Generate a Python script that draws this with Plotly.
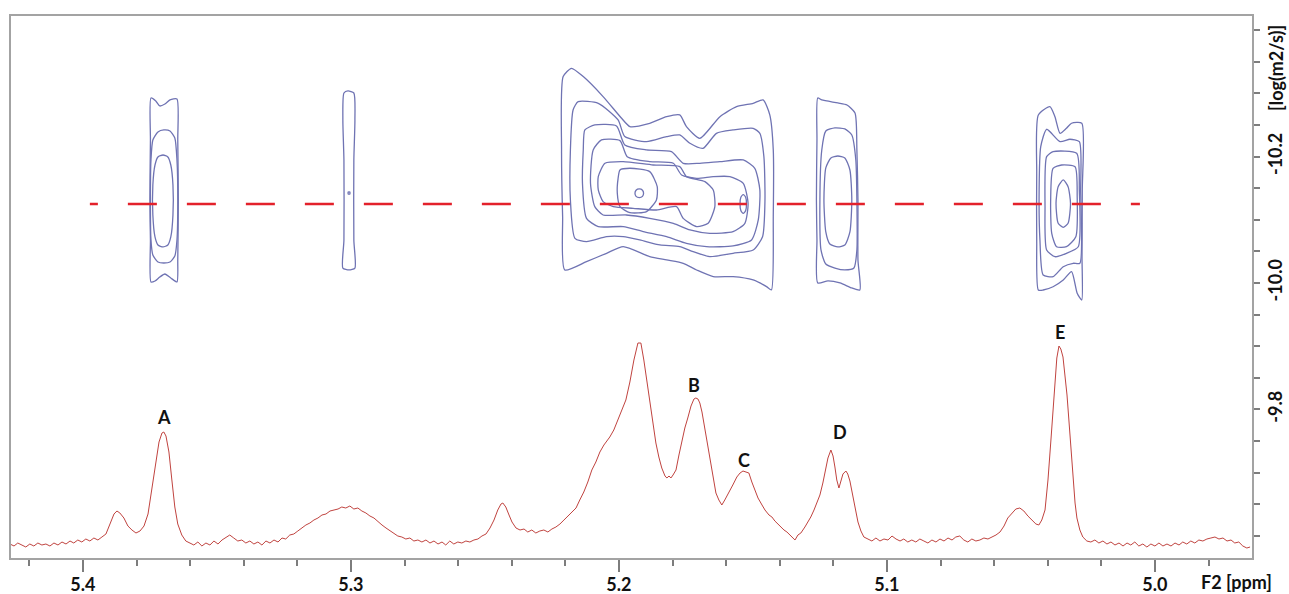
import plotly.graph_objects as go

# ---------------- data ----------------
# 1D projection spectrum: (chemical shift ppm, intensity a.u.)
spectrum = [
    (5.4272, 15), (5.4257, 13), (5.4243, 16), (5.4228, 14), (5.4213, 12), (5.4198, 15), (5.4183, 13),
    (5.4168, 16), (5.4153, 14), (5.4138, 15), (5.4123, 13), (5.4108, 16), (5.4093, 14), (5.4078, 17),
    (5.4063, 15), (5.4048, 18), (5.4034, 16), (5.4019, 19), (5.4004, 17), (5.3989, 20), (5.3974, 18),
    (5.3959, 21), (5.3944, 19), (5.3929, 22), (5.3914, 25), (5.3899, 35), (5.3884, 45), (5.3873, 48),
    (5.3862, 46), (5.3847, 41), (5.3832, 33), (5.3817, 29), (5.3802, 26), (5.3787, 28), (5.3772, 33),
    (5.3757, 45), (5.3743, 69), (5.3728, 97), (5.3716, 117), (5.3705, 126), (5.3698, 127), (5.3690, 123),
    (5.3679, 107), (5.3668, 79), (5.3657, 52), (5.3646, 35), (5.3631, 24), (5.3616, 18), (5.3601, 16),
    (5.3586, 14), (5.3571, 17), (5.3556, 13), (5.3541, 16), (5.3526, 14), (5.3511, 18), (5.3496, 15),
    (5.3481, 19), (5.3466, 22), (5.3452, 24), (5.3437, 21), (5.3422, 18), (5.3407, 19), (5.3392, 16),
    (5.3377, 18), (5.3362, 15), (5.3347, 17), (5.3332, 14), (5.3317, 18), (5.3302, 16), (5.3287, 19),
    (5.3272, 17), (5.3257, 21), (5.3243, 20), (5.3228, 24), (5.3213, 25), (5.3198, 28), (5.3183, 31),
    (5.3168, 34), (5.3153, 36), (5.3138, 39), (5.3123, 41), (5.3108, 44), (5.3093, 45), (5.3078, 48),
    (5.3063, 49), (5.3048, 50), (5.3034, 52), (5.3019, 51), (5.3004, 53), (5.2989, 50), (5.2974, 51),
    (5.2959, 48), (5.2944, 46), (5.2929, 43), (5.2914, 41), (5.2899, 37), (5.2884, 34), (5.2869, 31),
    (5.2854, 28), (5.2840, 26), (5.2825, 23), (5.2810, 22), (5.2795, 20), (5.2780, 21), (5.2765, 18),
    (5.2750, 19), (5.2735, 17), (5.2720, 19), (5.2705, 16), (5.2690, 18), (5.2675, 15), (5.2660, 17),
    (5.2646, 14), (5.2631, 18), (5.2616, 15), (5.2601, 17), (5.2586, 16), (5.2571, 18), (5.2556, 17),
    (5.2541, 19), (5.2526, 20), (5.2511, 23), (5.2496, 25), (5.2481, 31), (5.2466, 39), (5.2452, 49),
    (5.2440, 55), (5.2433, 56), (5.2422, 52), (5.2410, 44), (5.2399, 37), (5.2384, 31), (5.2369, 29),
    (5.2354, 30), (5.2340, 27), (5.2325, 29), (5.2310, 26), (5.2295, 28), (5.2280, 29), (5.2265, 27),
    (5.2250, 30), (5.2235, 32), (5.2220, 35), (5.2205, 39), (5.2190, 43), (5.2175, 46), (5.2160, 51),
    (5.2146, 59), (5.2131, 67), (5.2116, 77), (5.2101, 89), (5.2086, 97), (5.2071, 107), (5.2056, 114),
    (5.2045, 118), (5.2034, 122), (5.2019, 129), (5.2004, 139), (5.1989, 149), (5.1974, 159),
    (5.1959, 177), (5.1944, 199), (5.1929, 216), (5.1918, 216), (5.1907, 199), (5.1896, 179),
    (5.1884, 156), (5.1873, 134), (5.1862, 116), (5.1851, 102), (5.1840, 91), (5.1828, 83), (5.1821, 81),
    (5.1813, 83), (5.1806, 81), (5.1798, 84), (5.1787, 89), (5.1776, 104), (5.1765, 119), (5.1754, 131),
    (5.1743, 141), (5.1731, 153), (5.1720, 160), (5.1713, 161), (5.1705, 160), (5.1698, 156),
    (5.1690, 147), (5.1683, 136), (5.1672, 119), (5.1660, 99), (5.1649, 81), (5.1638, 66), (5.1627, 59),
    (5.1616, 54), (5.1605, 59), (5.1590, 66), (5.1575, 74), (5.1560, 82), (5.1548, 86), (5.1537, 88),
    (5.1526, 87), (5.1515, 86), (5.1504, 77), (5.1493, 69), (5.1481, 61), (5.1466, 54), (5.1455, 49),
    (5.1440, 44), (5.1429, 42), (5.1418, 38), (5.1407, 35), (5.1396, 32), (5.1384, 29), (5.1373, 27),
    (5.1362, 24), (5.1351, 22), (5.1343, 19), (5.1332, 24), (5.1321, 26), (5.1306, 32), (5.1295, 37),
    (5.1284, 42), (5.1272, 49), (5.1261, 56), (5.1250, 64), (5.1239, 76), (5.1228, 92), (5.1220, 101),
    (5.1209, 109), (5.1201, 103), (5.1194, 92), (5.1187, 79), (5.1179, 71), (5.1172, 79), (5.1164, 85),
    (5.1153, 88), (5.1146, 85), (5.1138, 78), (5.1131, 67), (5.1119, 52), (5.1108, 37), (5.1097, 28),
    (5.1086, 22), (5.1071, 20), (5.1056, 18), (5.1041, 21), (5.1026, 18), (5.1011, 20), (5.0996, 19),
    (5.0981, 23), (5.0966, 20), (5.0951, 18), (5.0937, 20), (5.0922, 17), (5.0907, 19), (5.0892, 17),
    (5.0877, 20), (5.0862, 18), (5.0847, 16), (5.0832, 19), (5.0817, 17), (5.0802, 20), (5.0787, 18),
    (5.0772, 21), (5.0757, 19), (5.0743, 22), (5.0728, 23), (5.0713, 19), (5.0698, 17), (5.0683, 20),
    (5.0668, 18), (5.0653, 19), (5.0638, 21), (5.0623, 20), (5.0608, 22), (5.0593, 24), (5.0578, 27),
    (5.0563, 33), (5.0549, 41), (5.0534, 46), (5.0519, 50), (5.0504, 51), (5.0489, 48), (5.0474, 43),
    (5.0459, 39), (5.0444, 35), (5.0433, 34), (5.0422, 39), (5.0410, 49), (5.0399, 79), (5.0388, 119),
    (5.0377, 164), (5.0366, 201), (5.0358, 213), (5.0351, 210), (5.0343, 202), (5.0336, 187),
    (5.0328, 164), (5.0321, 139), (5.0313, 111), (5.0306, 81), (5.0298, 56), (5.0291, 41), (5.0280, 29),
    (5.0269, 22), (5.0254, 18), (5.0239, 17), (5.0224, 19), (5.0209, 16), (5.0194, 18), (5.0179, 15),
    (5.0164, 17), (5.0149, 14), (5.0134, 16), (5.0119, 13), (5.0104, 16), (5.0090, 14), (5.0075, 17),
    (5.0060, 13), (5.0045, 15), (5.0030, 12), (5.0015, 15), (5.0000, 13), (4.9985, 16), (4.9970, 13),
    (4.9955, 15), (4.9940, 13), (4.9925, 16), (4.9910, 14), (4.9896, 17), (4.9881, 15), (4.9866, 18),
    (4.9851, 16), (4.9836, 19), (4.9821, 18), (4.9806, 20), (4.9791, 21), (4.9776, 22), (4.9761, 20),
    (4.9746, 21), (4.9731, 18), (4.9716, 19), (4.9702, 16), (4.9687, 17), (4.9672, 13), (4.9657, 11),
    (4.9645, 12),
]

# Peak labels: (label, ppm, intensity)
peak_labels = [("A", 5.3698, 142), ("B", 5.1720, 174), ("C", 5.1534, 99),
               ("D", 5.1175, 127), ("E", 5.0355, 227)]

# DOSY contours: lists of (ppm, log D) vertices
contours_A = [
    [(5.3746, -10.2927), (5.3728, -10.2880), (5.3713, -10.2801), (5.3694, -10.2832), (5.3675, -10.2896),
     (5.3649, -10.2911), (5.3646, -10.2263), (5.3644, -10.1313), (5.3646, -10.0364), (5.3649, -10.0016),
     (5.3672, -10.0079), (5.3694, -10.0142), (5.3713, -10.0095), (5.3731, -10.0032), (5.3746, -10.0016),
     (5.3748, -10.0680), (5.3750, -10.1313), (5.3748, -10.2263)],
    [(5.3746, -10.1946), (5.3739, -10.2263), (5.3720, -10.2389), (5.3698, -10.2421), (5.3675, -10.2405),
     (5.3657, -10.2294), (5.3649, -10.1946), (5.3646, -10.1313), (5.3649, -10.0680), (5.3657, -10.0427),
     (5.3675, -10.0332), (5.3698, -10.0316), (5.3720, -10.0332), (5.3739, -10.0443), (5.3746, -10.0680),
     (5.3748, -10.1313)],
    [(5.3701, -10.2025), (5.3683, -10.1994), (5.3672, -10.1867), (5.3664, -10.1551), (5.3664, -10.1076),
     (5.3672, -10.0728), (5.3683, -10.0601), (5.3701, -10.0570), (5.3720, -10.0601), (5.3731, -10.0728),
     (5.3739, -10.1076), (5.3739, -10.1551), (5.3731, -10.1867), (5.3720, -10.1994)],
]

contours_530 = [
    [(5.3026, -10.3006), (5.3011, -10.3038), (5.2989, -10.3006), (5.2985, -10.2579), (5.2989, -10.1946),
     (5.2989, -10.0680), (5.2985, -10.0237), (5.3007, -10.0206), (5.3030, -10.0237), (5.3026, -10.0680),
     (5.3026, -10.1946), (5.3030, -10.2579)],
    [(5.3010, -10.1440), (5.3004, -10.1440), (5.3004, -10.1408), (5.3010, -10.1408)],
]

contours_BC = [
    [(5.2208, -10.3265), (5.2177, -10.3397), (5.2133, -10.3265), (5.2059, -10.2949), (5.1990, -10.2606),
     (5.1959, -10.2474), (5.1885, -10.2527), (5.1822, -10.2632), (5.1773, -10.2659), (5.1748, -10.2474),
     (5.1698, -10.2289), (5.1623, -10.2632), (5.1561, -10.2790), (5.1499, -10.2843), (5.1462, -10.2896),
     (5.1437, -10.2659), (5.1424, -10.2105), (5.1424, -10.1050), (5.1431, -9.9890), (5.1449, -9.9942),
     (5.1499, -10.0048), (5.1574, -10.0101), (5.1648, -10.0101), (5.1710, -10.0206), (5.1760, -10.0311),
     (5.1822, -10.0364), (5.1885, -10.0417), (5.1984, -10.0575), (5.2046, -10.0470), (5.2121, -10.0338),
     (5.2202, -10.0206), (5.2210, -10.1050), (5.2214, -10.2105)],
    [(5.2171, -10.2738), (5.2152, -10.2869), (5.2077, -10.2843), (5.2003, -10.2579), (5.1978, -10.2316),
     (5.1897, -10.2237), (5.1822, -10.2316), (5.1773, -10.2342), (5.1735, -10.2210), (5.1686, -10.2131),
     (5.1636, -10.2368), (5.1574, -10.2421), (5.1499, -10.2448), (5.1474, -10.2368), (5.1459, -10.1999),
     (5.1455, -10.1314), (5.1464, -10.0733), (5.1499, -10.0522), (5.1574, -10.0470), (5.1661, -10.0417),
     (5.1723, -10.0496), (5.1773, -10.0575), (5.1847, -10.0602), (5.1922, -10.0681), (5.1984, -10.0733),
     (5.2046, -10.0733), (5.2121, -10.0654), (5.2164, -10.0707), (5.2181, -10.1314), (5.2181, -10.2105)],
    [(5.2127, -10.2421), (5.2090, -10.2500), (5.2009, -10.2484), (5.1978, -10.2184), (5.1897, -10.2105),
     (5.1804, -10.2078), (5.1760, -10.1894), (5.1698, -10.1894), (5.1623, -10.1920), (5.1536, -10.1946),
     (5.1493, -10.1815), (5.1474, -10.1472), (5.1480, -10.0997), (5.1505, -10.0681), (5.1574, -10.0586),
     (5.1673, -10.0575), (5.1748, -10.0628), (5.1822, -10.0733), (5.1909, -10.0813), (5.1984, -10.0892),
     (5.2077, -10.0892), (5.2121, -10.1023), (5.2136, -10.1577), (5.2133, -10.2105)],
    [(5.2096, -10.2105), (5.2065, -10.2263), (5.1996, -10.2252), (5.1969, -10.1999), (5.1885, -10.1920),
     (5.1797, -10.1894), (5.1766, -10.1709), (5.1710, -10.1656), (5.1648, -10.1683), (5.1586, -10.1683),
     (5.1536, -10.1577), (5.1518, -10.1261), (5.1530, -10.0944), (5.1574, -10.0813), (5.1661, -10.0786),
     (5.1735, -10.0839), (5.1797, -10.0944), (5.1885, -10.1023), (5.1972, -10.1076), (5.2059, -10.1076),
     (5.2090, -10.1208), (5.2106, -10.1577)],
    [(5.2077, -10.1683), (5.2052, -10.1894), (5.1984, -10.1920), (5.1872, -10.1867), (5.1773, -10.1841),
     (5.1748, -10.1683), (5.1679, -10.1604), (5.1648, -10.1472), (5.1642, -10.1208), (5.1667, -10.0944),
     (5.1710, -10.0892), (5.1760, -10.1023), (5.1785, -10.1208), (5.1860, -10.1155), (5.1947, -10.1182),
     (5.2021, -10.1208), (5.2059, -10.1287), (5.2077, -10.1472)],
    [(5.2003, -10.1656), (5.1996, -10.1788), (5.1959, -10.1815), (5.1885, -10.1762), (5.1857, -10.1525),
     (5.1860, -10.1314), (5.1897, -10.1129), (5.1959, -10.1113), (5.1996, -10.1208), (5.2006, -10.1419)],
    [(5.1924, -10.1488), (5.1912, -10.1468), (5.1908, -10.1419), (5.1912, -10.1370), (5.1924, -10.1350),
     (5.1936, -10.1370), (5.1940, -10.1419), (5.1936, -10.1468)],
    [(5.1536, -10.1398), (5.1527, -10.1355), (5.1524, -10.1250), (5.1527, -10.1145), (5.1536, -10.1102),
     (5.1545, -10.1145), (5.1548, -10.1250), (5.1545, -10.1355)],
]

contours_D = [
    [(5.1258, -10.2927), (5.1243, -10.2896), (5.1183, -10.2848), (5.1149, -10.2816), (5.1119, -10.2690),
     (5.1112, -10.2104), (5.1108, -10.1313), (5.1108, -10.0364), (5.1101, -9.9889), (5.1131, -9.9921),
     (5.1175, -10.0000), (5.1220, -10.0032), (5.1258, -10.0000), (5.1261, -10.0680), (5.1263, -10.1313),
     (5.1261, -10.2263)],
    [(5.1243, -10.2104), (5.1228, -10.2405), (5.1194, -10.2453), (5.1157, -10.2437), (5.1131, -10.2342),
     (5.1116, -10.1946), (5.1112, -10.1313), (5.1112, -10.0522), (5.1123, -10.0237), (5.1157, -10.0206),
     (5.1194, -10.0237), (5.1228, -10.0301), (5.1246, -10.0522), (5.1250, -10.1313)],
    [(5.1183, -10.2009), (5.1157, -10.1978), (5.1138, -10.1788), (5.1131, -10.1313), (5.1138, -10.0807),
     (5.1157, -10.0601), (5.1183, -10.0570), (5.1213, -10.0617), (5.1228, -10.0807), (5.1235, -10.1313),
     (5.1228, -10.1820), (5.1209, -10.1978)],
]

contours_E = [
    [(5.0435, -10.2658), (5.0392, -10.2790), (5.0373, -10.2631), (5.0354, -10.2369), (5.0330, -10.2448),
     (5.0311, -10.2527), (5.0273, -10.2527), (5.0271, -10.1472), (5.0272, -10.0416), (5.0273, -9.9731),
     (5.0290, -9.9837), (5.0311, -10.0179), (5.0342, -10.0047), (5.0380, -9.9941), (5.0417, -9.9889),
     (5.0435, -9.9889), (5.0441, -10.0680), (5.0441, -10.1736)],
    [(5.0426, -10.2157), (5.0404, -10.2432), (5.0354, -10.2236), (5.0317, -10.2274), (5.0282, -10.2236),
     (5.0277, -10.1472), (5.0280, -10.0312), (5.0305, -10.0312), (5.0342, -10.0258), (5.0380, -10.0100),
     (5.0417, -10.0127), (5.0429, -10.0680), (5.0432, -10.1472)],
    [(5.0404, -10.1999), (5.0380, -10.2078), (5.0292, -10.2052), (5.0282, -10.1472), (5.0286, -10.0574),
     (5.0330, -10.0470), (5.0373, -10.0416), (5.0404, -10.0522), (5.0410, -10.1207)],
    [(5.0380, -10.1815), (5.0348, -10.1867), (5.0298, -10.1840), (5.0290, -10.1366), (5.0295, -10.0732),
     (5.0330, -10.0574), (5.0367, -10.0574), (5.0385, -10.0786), (5.0389, -10.1313)],
    [(5.0342, -10.1630), (5.0324, -10.1524), (5.0315, -10.1261), (5.0324, -10.0945), (5.0342, -10.0881),
     (5.0361, -10.0945), (5.0369, -10.1261), (5.0361, -10.1524)],
]

# Reference diffusion line (ppm span, log D)
ref_line_ppm = [5.3974, 5.0056]
ref_line_logD = [-10.125, -10.125]

logD_ticks = [-10.2, -10.0, -9.8]
logD_ticktext = ["-10.2", "-10.0", "-9.8"]

# ---------------- figure ----------------
FONT = "Lato"
CONTOUR_COLOR = "#6f73b3"

fig = go.Figure()

for group in (contours_A, contours_530, contours_BC, contours_D, contours_E):
    for poly in group:
        xs = [p[0] for p in poly] + [poly[0][0]]
        ys = [p[1] for p in poly] + [poly[0][1]]
        fig.add_trace(go.Scatter(
            x=xs, y=ys, xaxis="x", yaxis="y2", mode="lines",
            line=dict(color=CONTOUR_COLOR, width=1.3, shape="spline", smoothing=0.6),
            hoverinfo="skip", showlegend=False))

dash_pattern = "8px,30px" + ",29px,30px" * 18
fig.add_trace(go.Scatter(
    x=ref_line_ppm, y=ref_line_logD, xaxis="x", yaxis="y2", mode="lines",
    line=dict(color="#e3212b", width=2.5, dash=dash_pattern),
    hoverinfo="skip", showlegend=False))

fig.add_trace(go.Scatter(
    x=[p[0] for p in spectrum], y=[p[1] for p in spectrum],
    xaxis="x", yaxis="y", mode="lines",
    line=dict(color="#c0433f", width=1),
    hoverinfo="skip", showlegend=False))

annotations = []
for lab, ppm, inten in peak_labels:
    annotations.append(dict(x=ppm, y=inten, xref="x", yref="y", text=lab, showarrow=False,
                            xanchor="center", yanchor="middle",
                            font=dict(family=FONT, size=18, color="#111111", weight="bold")))
annotations.append(dict(x=1.0185, y=0.9026, xref="paper", yref="paper", text="[log(m2/s)]",
                        showarrow=False, textangle=-90, xanchor="center", yanchor="middle",
                        font=dict(family=FONT, size=18, color="#111111", weight="bold")))
annotations.append(dict(x=0.987, y=-0.042, xref="paper", yref="paper", text="F2 [ppm]",
                        showarrow=False, xanchor="center", yanchor="middle",
                        font=dict(family=FONT, size=18, color="#111111", weight="bold")))

tick_gray = "#7d7d7d"
fig.update_layout(
    template="none",
    width=1289, height=594,
    margin=dict(l=10, r=36, t=15, b=35, pad=0),
    paper_bgcolor="white", plot_bgcolor="white",
    showlegend=False,
    xaxis=dict(
        range=[5.4272, 4.9634], domain=[0, 1], anchor="y",
        tickmode="linear", tick0=5.0, dtick=0.1, tickformat=".1f",
        ticks="outside", ticklen=12, tickwidth=1.5, tickcolor=tick_gray,
        ticklabelstandoff=-3,
        minor=dict(tickmode="linear", tick0=5.0, dtick=0.02, ticks="outside", ticklen=6,
                   tickwidth=1.5, tickcolor=tick_gray, showgrid=False),
        showgrid=False, zeroline=False, showline=False, automargin=False,
        tickfont=dict(family=FONT, size=18, color="#111111", weight="bold"),
    ),
    yaxis=dict(range=[0, 544], visible=False, fixedrange=True),
    yaxis2=dict(
        overlaying="y", side="right", anchor="x",
        range=[-9.5633, -10.4240],
        tickmode="array", tickvals=logD_ticks, ticktext=logD_ticktext,
        ticks="outside", ticklen=6, tickwidth=1.5, tickcolor=tick_gray, tickangle=-90,
        minor=dict(tickmode="linear", tick0=-10.0, dtick=0.05, ticks="outside", ticklen=6,
                   tickwidth=1.5, tickcolor=tick_gray, showgrid=False),
        showgrid=False, zeroline=False, showline=False, automargin=False,
        tickfont=dict(family=FONT, size=18, color="#111111", weight="bold"),
    ),
    shapes=[dict(type="rect", xref="paper", yref="paper", x0=0, y0=0, x1=1, y1=1,
                 line=dict(color="#a3a3a3", width=2), fillcolor="rgba(0,0,0,0)", layer="above")],
    annotations=annotations,
)

# remove the default page margin so the figure fills the 1289x594 window exactly
fig.write_html("out.html",
               config={"displayModeBar": False},
               post_script="document.body.style.margin='0';document.body.style.overflow='hidden';")
